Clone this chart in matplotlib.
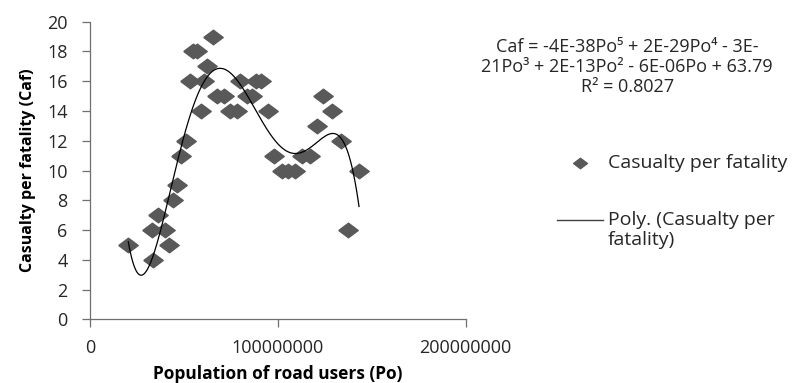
import numpy as np
import matplotlib
matplotlib.use("Agg")
import matplotlib.pyplot as plt
from matplotlib.lines import Line2D

# population of road users (Po) and casualty per fatality (Caf)
po = [20.4e6, 33.7e6, 32.8e6, 36.4e6, 39.9e6, 42.2e6, 44.0e6, 46.1e6, 48.6e6, 51.1e6,
      53.2e6, 55.0e6, 57.1e6, 58.9e6, 60.7e6, 62.5e6, 65.3e6, 67.4e6, 71.3e6, 74.5e6,
      78.1e6, 80.0e6, 83.4e6, 86.0e6, 88.5e6, 91.2e6, 95.0e6, 98.0e6, 102.0e6, 105.6e6,
      109.1e6, 112.7e6, 117.1e6, 120.6e6, 124.2e6, 128.6e6, 133.4e6, 137.5e6, 143.2e6]
caf = [5, 4, 6, 7, 6, 5, 8, 9, 11, 12,
       16, 18, 18, 14, 16, 17, 19, 15, 15, 14,
       14, 16, 15, 15, 16, 16, 14, 11, 10, 10,
       10, 11, 11, 13, 15, 14, 12, 6, 10]
series_name = "Casualty per fatality"
trend_name = "Poly. (Casualty per\nfatality)"
equation = ("Caf = -4E-38Po\u2075 + 2E-29Po\u2074 - 3E-\n"
            "21Po\u00b3 + 2E-13Po\u00b2 - 6E-06Po + 63.79\n"
            "R\u00b2 = 0.8027")
yticks = list(range(0, 21, 2))
xticks = [0, 100000000, 200000000]

FONT = ["Open Sans", "DejaVu Sans"]
plt.rcParams["font.family"] = FONT
GREY = "#595959"
AXC = "#6f6f6f"
diamond = [(-1, 0), (0, 0.75), (1, 0), (0, -0.75), (-1, 0)]

fig = plt.figure(figsize=(8.03, 3.83), dpi=100)
ax = fig.add_axes([0.112, 0.1663, 0.468, 0.777])

ax.plot(po, caf, ls="none", marker=diamond, ms=14, color=GREY, mec=GREY, zorder=2)

# 5th-order polynomial trendline, as Excel would add
x = np.array(po) / 1e8
coef = np.polyfit(x, caf, 5)
xs = np.linspace(x.min(), x.max(), 300)
ax.plot(xs * 1e8, np.polyval(coef, xs), color="black", lw=0.9, zorder=3)

ax.set_xlim(0, 200000000)
ax.set_ylim(0, 20)
ax.set_xticks(xticks)
ax.set_xticklabels([str(t) for t in xticks])
ax.set_yticks(yticks)
ax.tick_params(labelsize=13, length=5.5, width=0.9, color=AXC, labelcolor="#262626")
ax.tick_params(axis="y", pad=10.5)
ax.tick_params(axis="x", pad=8.5)
for s in ["top", "right"]:
    ax.spines[s].set_visible(False)
for s in ["left", "bottom"]:
    ax.spines[s].set_color(AXC)
    ax.spines[s].set_linewidth(0.9)
ax.set_xlabel("Population of road users (Po)", fontsize=12.5, fontweight="bold", labelpad=6)
ax.set_ylabel("Casualty per fatality (Caf)", fontsize=11.5, fontweight="bold", labelpad=8)

fig.text(0.781, 0.826, equation, ha="center", va="center", fontsize=13,
         linespacing=1.15, family=FONT, color="#262626")

# legend drawn by hand to keep Excel's layout
fig.add_artist(Line2D([0.722], [0.574], ls="none", marker=diamond, ms=10,
                      color=GREY, transform=fig.transFigure))
fig.text(0.757, 0.574, series_name, ha="left", va="center", fontsize=14, color="#262626")
fig.add_artist(Line2D([0.694, 0.751], [0.426, 0.426], color="#404040", lw=1,
                      transform=fig.transFigure))
fig.text(0.757, 0.449, trend_name, ha="left", va="top", fontsize=14, linespacing=1.15,
         color="#262626")

fig.savefig("out.png", dpi=100)
